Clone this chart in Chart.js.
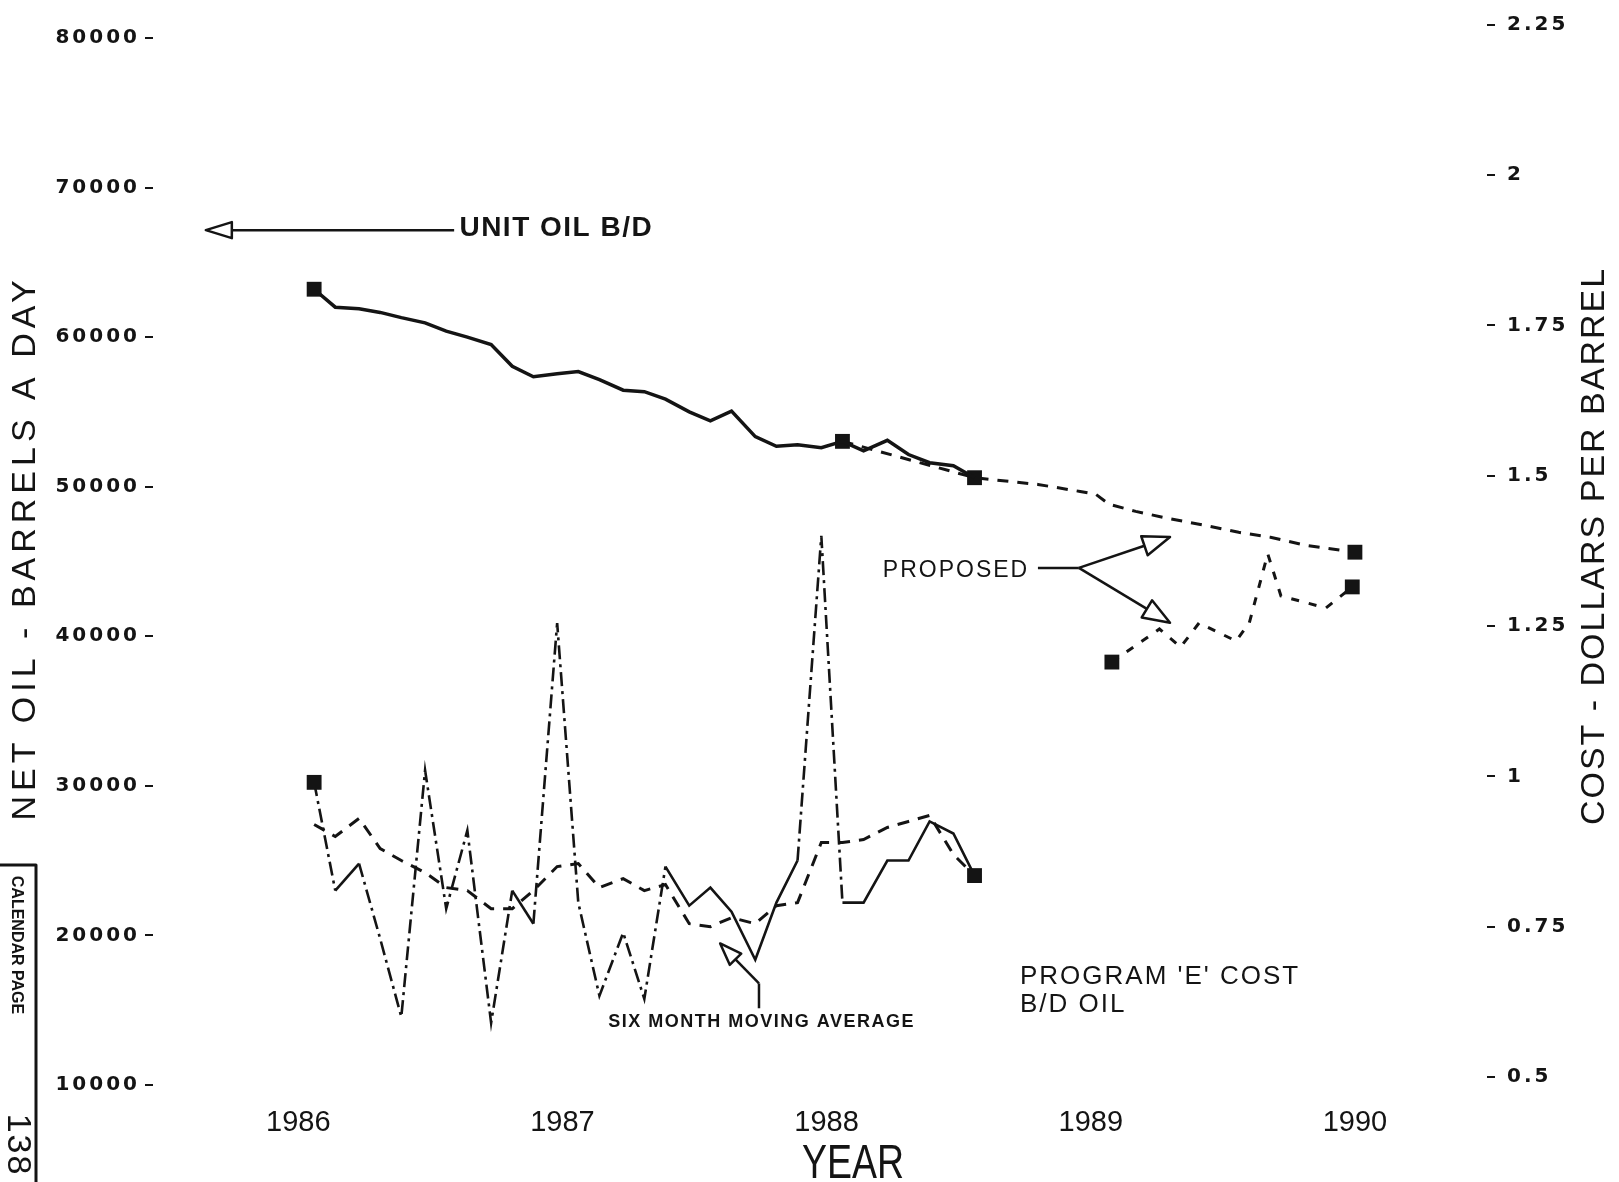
<!DOCTYPE html>
<html>
<head>
<meta charset="utf-8">
<title>Net oil and Program 'E' cost</title>
<script src="https://cdn.jsdelivr.net/npm/chart.js@4.4.1/dist/chart.umd.min.js"></script>
<style>
    html, body { margin: 0; padding: 0; background: #fff; }
</style>
</head>
<body>
<canvas id="oilChart" width="1619" height="1182"></canvas>
<script>
// Data
// Monthly points, Jan 1986 - Jul 1988 (decimal years)
const monthX = [
    1986.06, 1986.14, 1986.23, 1986.31, 1986.39, 1986.48, 1986.56, 1986.64, 1986.73, 1986.81, 1986.89, 1986.98,
    1987.06, 1987.14, 1987.23, 1987.31, 1987.39, 1987.48, 1987.56, 1987.64, 1987.73, 1987.81, 1987.89, 1987.98,
    1988.06, 1988.14, 1988.23, 1988.31, 1988.39, 1988.48, 1988.56
];

// Unit oil, barrels a day (left axis)
const unitOil = [
    63200, 62000, 61900, 61650, 61300, 60950, 60400, 60000, 59500, 58050, 57350, 57550,
    57700, 57150, 56450, 56350, 55850, 55000, 54400, 55050, 53350, 52700, 52800, 52600,
    53030, 52400, 53100, 52150, 51600, 51400, 50600
];

// Program 'E' cost, dollars per barrel (right axis)
const programCost = [
    0.99, 0.81, 0.855, 0.73, 0.60, 1.01, 0.78, 0.91, 0.59, 0.81, 0.755, 1.255,
    0.79, 0.635, 0.74, 0.63, 0.85, 0.785, 0.815, 0.775, 0.695, 0.79, 0.86, 1.40,
    0.79, 0.79, 0.86, 0.86, 0.925, 0.905, 0.835
];

// Six month moving average of the cost (right axis)
const movingAvg = [
    0.92, 0.90, 0.93, 0.88, 0.86, 0.84, 0.815, 0.81, 0.78, 0.78, 0.81, 0.85,
    0.855, 0.815, 0.83, 0.81, 0.82, 0.755, 0.75, 0.765, 0.755, 0.785, 0.79, 0.89,
    0.89, 0.895, 0.915, 0.925, 0.935, 0.87, 0.835
];

// Proposed unit oil (left axis)
const proposedOilX = [1988.06, 1988.56, 1988.80, 1988.96, 1989.02, 1989.07, 1989.17, 1989.29, 1989.43, 1989.56, 1989.68, 1989.81, 1990.00];
const proposedOil = [53030, 50600, 50150, 49680, 49480, 48820, 48350, 47890, 47420, 46950, 46620, 46090, 45620];

// Proposed cost (right axis)
const proposedCostX = [1989.08, 1989.26, 1989.34, 1989.41, 1989.55, 1989.60, 1989.67, 1989.72, 1989.89, 1989.99];
const proposedCost = [1.19, 1.245, 1.215, 1.255, 1.225, 1.255, 1.37, 1.30, 1.28, 1.315];

// Tick labels
const yearTicks = [1986, 1987, 1988, 1989, 1990];
const oilTicks = [10000, 20000, 30000, 40000, 50000, 60000, 70000, 80000];
const costTicks = [0.5, 0.75, 1, 1.25, 1.5, 1.75, 2, 2.25];

const ink = '#141414';
const markerSize = 10.5;

function toPoints(xs, ys) {
    return xs.map((x, i) => ({ x: x, y: ys[i] }));
}

// Markers only on the given indexes
function markersAt(list) {
    return ctx => (list.includes(ctx.dataIndex) ? markerSize : 0);
}

// Open triangle arrow from (fx,fy) to the tip (tx,ty)
function arrow(ctx, fx, fy, tx, ty, len, half) {
    const a = Math.atan2(ty - fy, tx - fx);
    const bx = tx - len * Math.cos(a);
    const by = ty - len * Math.sin(a);
    const nx = -Math.sin(a) * half;
    const ny = Math.cos(a) * half;
    ctx.beginPath();
    ctx.moveTo(fx, fy);
    ctx.lineTo(bx, by);
    ctx.stroke();
    ctx.beginPath();
    ctx.moveTo(tx, ty);
    ctx.lineTo(bx + nx, by + ny);
    ctx.lineTo(bx - nx, by - ny);
    ctx.closePath();
    ctx.fillStyle = '#fff';
    ctx.fill();
    ctx.stroke();
    ctx.fillStyle = ink;
}

function label(ctx, text, x, y, font, spacing, align) {
    ctx.font = font;
    ctx.letterSpacing = spacing + 'px';
    ctx.textAlign = align;
    ctx.textBaseline = 'middle';
    ctx.fillText(text, x, y);
}

function vertLabel(ctx, text, x, y, font, spacing, angle) {
    ctx.save();
    ctx.translate(x, y);
    ctx.rotate(angle);
    label(ctx, text, 0, 0, font, spacing, 'center');
    ctx.restore();
}

// Wider letter spacing for the y tick labels (drawn on the layer after the datasets)
const tickSpacingPlugin = {
    id: 'tickSpacing',
    afterDatasetsDraw(chart) {
        chart.ctx.letterSpacing = '3px';
    }
};

// Callouts, axis titles and the scan's page stamp
const notesPlugin = {
    id: 'notes',
    afterDraw(chart) {
        const ctx = chart.ctx;
        const X = v => chart.scales.x.getPixelForValue(v);
        const Y = v => chart.scales.y.getPixelForValue(v);
        const W = chart.width;
        const H = chart.height;

        ctx.save();
        ctx.letterSpacing = '0px';
        ctx.strokeStyle = ink;
        ctx.fillStyle = ink;
        ctx.lineWidth = 2.5;
        ctx.lineJoin = 'round';

        // UNIT OIL B/D
        arrow(ctx, X(1986.59), Y(67150), X(1985.65), Y(67150), 26, 8);
        label(ctx, 'UNIT OIL B/D', X(1986.61), Y(67250), 'bold 28px "Liberation Sans", Arial', 1.5, 'left');

        // PROPOSED
        label(ctx, 'PROPOSED', X(1988.213), Y(44370), '23px "Liberation Sans", Arial', 2, 'left');
        ctx.beginPath();
        ctx.moveTo(X(1988.80), Y(44570));
        ctx.lineTo(X(1988.955), Y(44570));
        ctx.stroke();
        arrow(ctx, X(1988.955), Y(44570), X(1989.30), Y(46630), 27, 10);
        arrow(ctx, X(1988.955), Y(44570), X(1989.30), Y(40900), 27, 10);

        // SIX MONTH MOVING AVERAGE
        label(ctx, 'SIX MONTH MOVING AVERAGE', X(1987.754), Y(14196), 'bold 18px "Liberation Sans", Arial', 1.5, 'center');
        ctx.beginPath();
        ctx.moveTo(X(1987.744), Y(15130));
        ctx.lineTo(X(1987.744), Y(16790));
        ctx.stroke();
        arrow(ctx, X(1987.744), Y(16790), X(1987.597), Y(19460), 22, 8);

        // PROGRAM 'E' COST
        label(ctx, "PROGRAM 'E' COST", X(1988.732), Y(17260), '26px "Liberation Sans", Arial', 2, 'left');
        label(ctx, 'B/D OIL', X(1988.732), Y(15330), '26px "Liberation Sans", Arial', 2, 'left');

        // Axis titles
        vertLabel(ctx, 'NET OIL - BARRELS A DAY', 26, 548, '34px "Liberation Sans", Arial', 5, -Math.PI / 2);
        vertLabel(ctx, 'COST - DOLLARS PER BARREL', W - 24, 546, '34px "Liberation Sans", Arial', 2, -Math.PI / 2);

        // YEAR, in a narrow cut
        ctx.save();
        ctx.translate(X(1988.1), H - 4);
        ctx.scale(0.78, 1);
        ctx.font = '48px "Liberation Sans", Arial';
        ctx.letterSpacing = '0px';
        ctx.textAlign = 'center';
        ctx.textBaseline = 'alphabetic';
        ctx.fillText('YEAR', 0, 0);
        ctx.restore();

        // Calendar page stamp at the left edge
        ctx.lineWidth = 3;
        ctx.beginPath();
        ctx.moveTo(0, 865);
        ctx.lineTo(36, 865);
        ctx.lineTo(36, H);
        ctx.stroke();
        vertLabel(ctx, 'CALENDAR PAGE', 16, 945, 'bold 16px "Liberation Sans", Arial', 0, Math.PI / 2);
        vertLabel(ctx, '138', 17, 1145, '34px "Liberation Sans", Arial', 2, Math.PI / 2);

        ctx.restore();
    }
};

const ctx = document.getElementById('oilChart').getContext('2d');
const oilChart = new Chart(ctx, {
    type: 'line',
    data: {
        datasets: [
            {
                label: 'Unit oil B/D',
                data: toPoints(monthX, unitOil),
                yAxisID: 'y',
                borderColor: ink,
                borderWidth: 3.5,
                pointStyle: 'rect',
                pointRadius: markersAt([0]),
                pointBackgroundColor: ink,
                pointBorderWidth: 0,
                tension: 0
            },
            {
                label: 'Proposed unit oil',
                data: toPoints(proposedOilX, proposedOil),
                yAxisID: 'y',
                borderColor: ink,
                borderWidth: 3,
                borderDash: [11, 9],
                pointStyle: 'rect',
                pointRadius: markersAt([0, 1, proposedOil.length - 1]),
                pointBackgroundColor: ink,
                pointBorderWidth: 0,
                tension: 0
            },
            {
                label: "Program 'E' cost B/D oil",
                data: toPoints(monthX, programCost),
                yAxisID: 'y1',
                borderColor: ink,
                borderWidth: 2.6,
                pointStyle: 'rect',
                pointRadius: markersAt([0, programCost.length - 1]),
                pointBackgroundColor: ink,
                pointBorderWidth: 0,
                tension: 0,
                // steep strokes came out broken in the scan
                segment: {
                    borderDash: c => (Math.abs(c.p1.y - c.p0.y) > 60 ? [14, 5, 3, 5] : undefined)
                }
            },
            {
                label: 'Six month moving average',
                data: toPoints(monthX, movingAvg),
                yAxisID: 'y1',
                borderColor: ink,
                borderWidth: 3,
                borderDash: [12, 9],
                pointRadius: 0,
                tension: 0
            },
            {
                label: 'Proposed cost',
                data: toPoints(proposedCostX, proposedCost),
                yAxisID: 'y1',
                borderColor: ink,
                borderWidth: 3,
                borderDash: [8, 10],
                pointStyle: 'rect',
                pointRadius: markersAt([0, proposedCost.length - 1]),
                pointBackgroundColor: ink,
                pointBorderWidth: 0,
                tension: 0
            }
        ]
    },
    options: {
        responsive: false,
        animation: false,
        layout: { padding: { top: 20, left: 0, right: 0, bottom: 0 } },
        plugins: {
            legend: { display: false },
            tooltip: { enabled: false }
        },
        scales: {
            x: {
                type: 'linear',
                min: 1985.45,
                max: 1990.5,
                afterBuildTicks: s => { s.ticks = yearTicks.map(v => ({ value: v })); },
                afterFit: s => { s.height = 96; },
                grid: { display: false },
                border: { display: false },
                ticks: {
                    padding: 12,
                    color: ink,
                    maxRotation: 0,
                    autoSkip: false,
                    font: { family: '"Liberation Sans", Arial', size: 29 },
                    callback: v => String(v)
                }
            },
            y: {
                position: 'left',
                min: 9933,
                max: 80932,
                afterBuildTicks: s => { s.ticks = oilTicks.map(v => ({ value: v })); },
                afterFit: s => { s.width = 153; },
                grid: { drawOnChartArea: false, drawTicks: true, tickLength: 8, color: ink, lineWidth: 2 },
                border: { display: false },
                ticks: {
                    z: 1,
                    padding: 5,
                    color: ink,
                    font: { family: '"DejaVu Sans"', weight: 'bold', size: 20 },
                    callback: v => String(v)
                }
            },
            y1: {
                position: 'right',
                min: 0.4851,
                max: 2.251,
                afterBuildTicks: s => { s.ticks = costTicks.map(v => ({ value: v })); },
                afterFit: s => { s.width = 132; },
                grid: { drawOnChartArea: false, drawTicks: true, tickLength: 8, color: ink, lineWidth: 2 },
                border: { display: false },
                ticks: {
                    z: 1,
                    padding: 12,
                    color: ink,
                    font: { family: '"DejaVu Sans"', weight: 'bold', size: 20 },
                    callback: v => String(v)
                }
            }
        }
    },
    plugins: [tickSpacingPlugin, notesPlugin]
});
</script>
</body>
</html>
